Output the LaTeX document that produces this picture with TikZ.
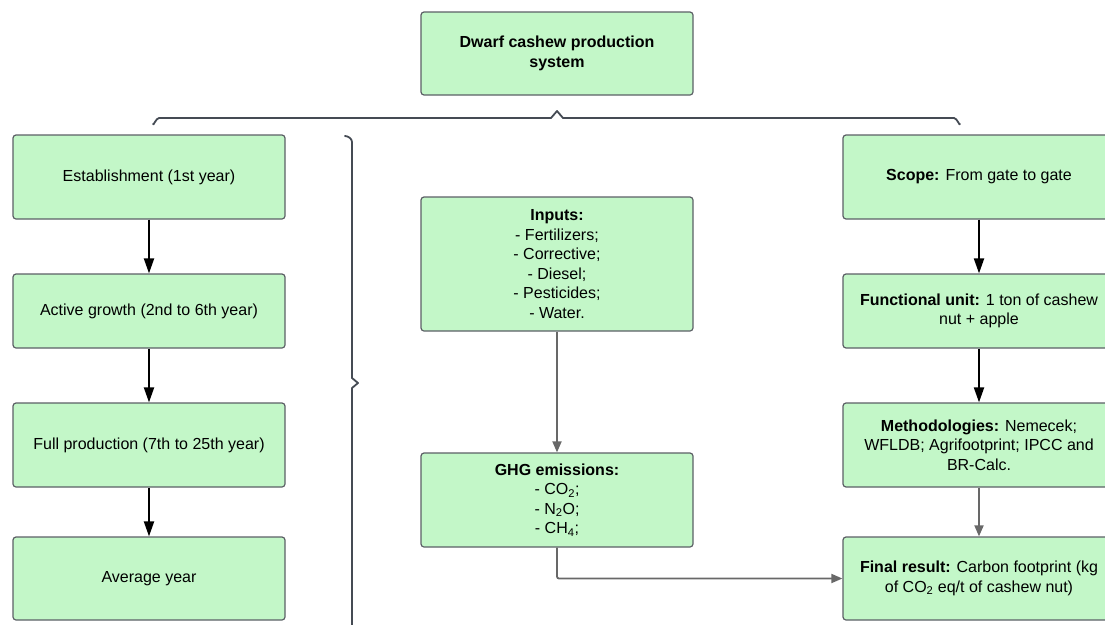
\documentclass[tikz,border=0pt]{standalone}
\usepackage{fontspec}
\setmainfont{Liberation Sans}
\usepackage{xcolor}
\usepackage{tikz}
\usetikzlibrary{positioning}
\usetikzlibrary{arrows.meta}

\definecolor{boxgreen}{HTML}{C3F7C8}
\definecolor{boxline}{HTML}{5C6066}
\definecolor{flowgray}{HTML}{686868}
\definecolor{bracegray}{HTML}{454B54}

\tikzset{
  stagebox/.style={draw=boxline, line width=1.2pt, fill=boxgreen, rounded corners=3pt,
    minimum width=272pt, align=center, inner sep=2pt,
    font=\fontsize{16}{19.5}\selectfont},
  blackflow/.style={-{Triangle[width=10pt,length=15pt]}, line width=2pt, black},
  grayflow/.style={-{Triangle[width=9pt,length=11pt]}, line width=1.8pt, flowgray, rounded corners=2pt},
  bracelin/.style={line width=1.8pt, bracegray, line cap=round, line join=round}
}

\begin{document}
\begin{tikzpicture}[x=1pt, y=-1pt]
    \useasboundingbox (0,0) rectangle (1105,624);

    % Top box
    \node[stagebox, minimum height=83pt] (system) at (557,53.5) {\textbf{Dwarf cashew production}\\\textbf{system}};

    % Braces
    \draw[bracelin] (153,124) to[out=-90,in=180,looseness=0.9] (159,118) -- (551,118) -- (557,111) -- (563,118) -- (954,118) to[out=0,in=-90,looseness=0.9] (960,124);
    \draw[bracelin] (345,136) to[out=0,in=90,looseness=0.9] (352,142) -- (352,378) -- (358,383) -- (352,388) -- (352,630);

    % Production phases
    \node[stagebox, minimum height=84pt] (establish) at (149,177) {Establishment (1st year)};
    \node[stagebox, minimum height=74pt] (growth) at (149,311) {Active growth (2nd to 6th year)};
    \node[stagebox, minimum height=84pt] (fullprod) at (149,445) {Full production (7th to 25th year)};
    \node[stagebox, minimum height=83pt] (avgyear) at (149,578.5) {Average year};

    \draw[blackflow] (establish) -- (growth);
    \draw[blackflow] (growth) -- (fullprod);
    \draw[blackflow] (fullprod) -- (avgyear);

    % Inventory
    \node[stagebox, minimum height=134pt] (inputs) at (557,264) {\textbf{Inputs:}\\- Fertilizers;\\- Corrective;\\- Diesel;\\- Pesticides;\\- Water.};
    \node[stagebox, minimum height=94pt] (ghg) at (557,500) {\textbf{GHG emissions:}\\- CO\textsubscript{2};\\- N\textsubscript{2}O;\\- CH\textsubscript{4};};

    \draw[grayflow] (inputs) -- (ghg);

    % Assessment
    \node[stagebox, minimum height=84pt] (scope) at (979,177) {\textbf{Scope:} From gate to gate};
    \node[stagebox, minimum height=74pt] (funit) at (979,311) {\textbf{Functional unit:} 1 ton of cashew\\nut + apple};
    \node[stagebox, minimum height=84pt] (method) at (979,445) {\textbf{Methodologies:} Nemecek;\\WFLDB; Agrifootprint; IPCC and\\BR-Calc.};
    \node[stagebox, minimum height=83pt] (final) at (979,578.5) {\textbf{Final result:} Carbon footprint (kg\\of CO\textsubscript{2} eq/t of cashew nut)};

    \draw[blackflow] (scope) -- (funit);
    \draw[blackflow] (funit) -- (method);
    \draw[grayflow] (method) -- (final);
    \draw[grayflow] (ghg.south) |- (final.west);
\end{tikzpicture}
\end{document}
